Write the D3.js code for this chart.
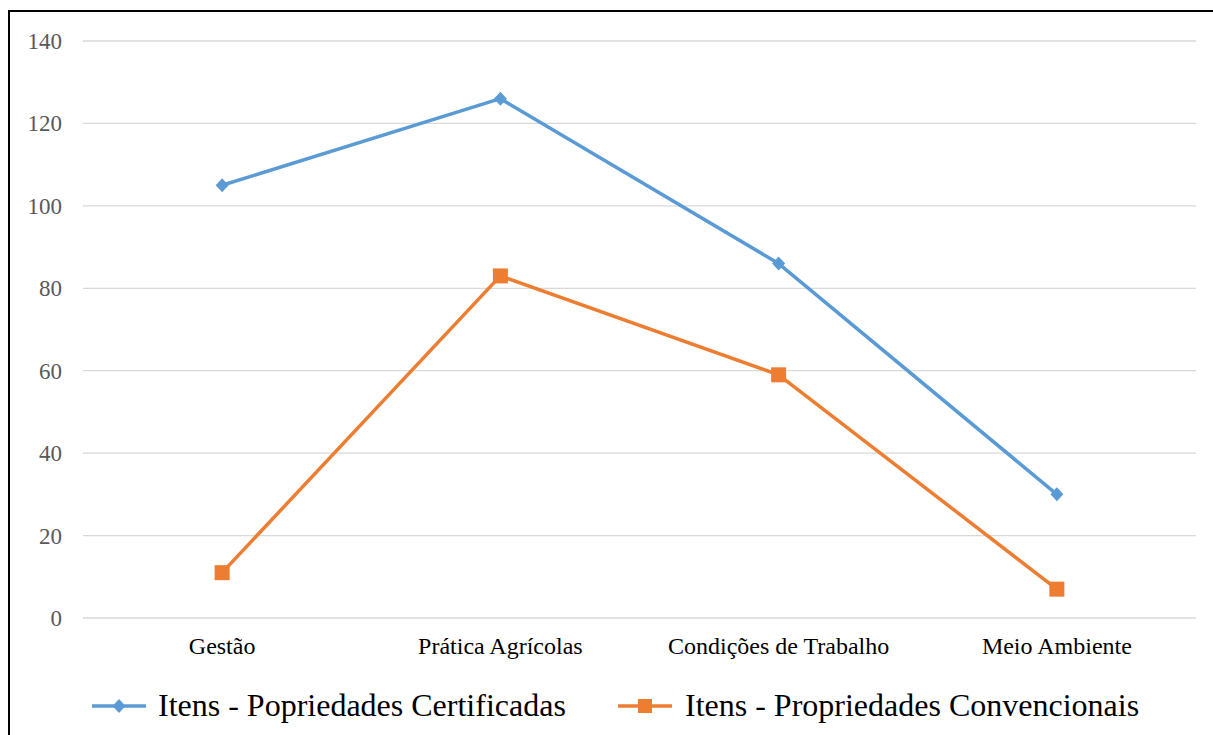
<!DOCTYPE html>
<html><head><meta charset="utf-8">
<script src="https://cdn.jsdelivr.net/npm/d3@7"></script>
<style>body{margin:0;background:#fff}svg{display:block}text{font-family:"Liberation Serif","Times New Roman",serif}</style>
</head><body><svg id="c" width="1213" height="735"></svg>
<script>
const categories = ["Gestão","Prática Agrícolas","Condições de Trabalho","Meio Ambiente"];
const certificadas = [105,126,86,30];
const convencionais = [11,83,59,7];
const yTicks = [0,20,40,60,80,100,120,140];
const seriesNames = ["Itens - Popriedades Certificadas","Itens - Propriedades Convencionais"];
const colors = ["#5B9BD5","#ED7D31"];

const svg = d3.select("#c");
svg.append("rect").attr("x",9).attr("y",11).attr("width",1220).attr("height",740)
  .attr("fill","#fff").attr("stroke","#000").attr("stroke-width",2);

const x = d3.scaleBand().domain(categories).range([83,1196]);
const y = d3.scaleLinear().domain([0,140]).range([618,41]);
const cx = i=>x(categories[i])+x.bandwidth()/2;
const diamond = "M0,-7L6.5,0L0,7L-6.5,0Z";

const g = svg.append("g");
g.selectAll("line.grid").data(yTicks).join("line")
  .attr("x1",83).attr("x2",1196).attr("y1",d=>y(d)).attr("y2",d=>y(d))
  .attr("stroke","#d9d9d9").attr("stroke-width",1.3);
g.selectAll("text.yt").data(yTicks).join("text")
  .attr("x",62).attr("y",d=>y(d)+8).attr("text-anchor","end")
  .attr("font-size",23).attr("fill","#595959").text(d=>d);
g.selectAll("text.xt").data(categories).join("text")
  .attr("x",d=>x(d)+x.bandwidth()/2).attr("y",654).attr("text-anchor","middle")
  .attr("font-size",24).attr("fill","#000").text(d=>d);

const line = d3.line().x((d,i)=>cx(i)).y(d=>y(d));
[certificadas,convencionais].forEach((s,k)=>{
  g.append("path").datum(s).attr("d",line).attr("fill","none").attr("stroke",colors[k]).attr("stroke-width",3.5).attr("stroke-linejoin","round");
});
certificadas.forEach((v,i)=>g.append("path").attr("d",diamond).attr("transform",`translate(${cx(i)},${y(v)})`).attr("fill",colors[0]));
convencionais.forEach((v,i)=>g.append("rect").attr("x",cx(i)-7.5).attr("y",y(v)-7.5).attr("width",15).attr("height",15).attr("fill",colors[1]));

// legend
const leg = [{x:92,tx:158},{x:618,tx:685}];
leg.forEach((l,k)=>{
  svg.append("line").attr("x1",l.x).attr("x2",l.x+54).attr("y1",706).attr("y2",706).attr("stroke",colors[k]).attr("stroke-width",3.5);
  if(k===0) svg.append("path").attr("d",diamond).attr("transform",`translate(${l.x+27},706)`).attr("fill",colors[0]);
  else svg.append("rect").attr("x",l.x+27-7).attr("y",699).attr("width",14).attr("height",14).attr("fill",colors[1]);
  svg.append("text").attr("x",l.tx).attr("y",716).attr("font-size",32).attr("fill","#000").text(seriesNames[k]);
});
</script></body></html>
